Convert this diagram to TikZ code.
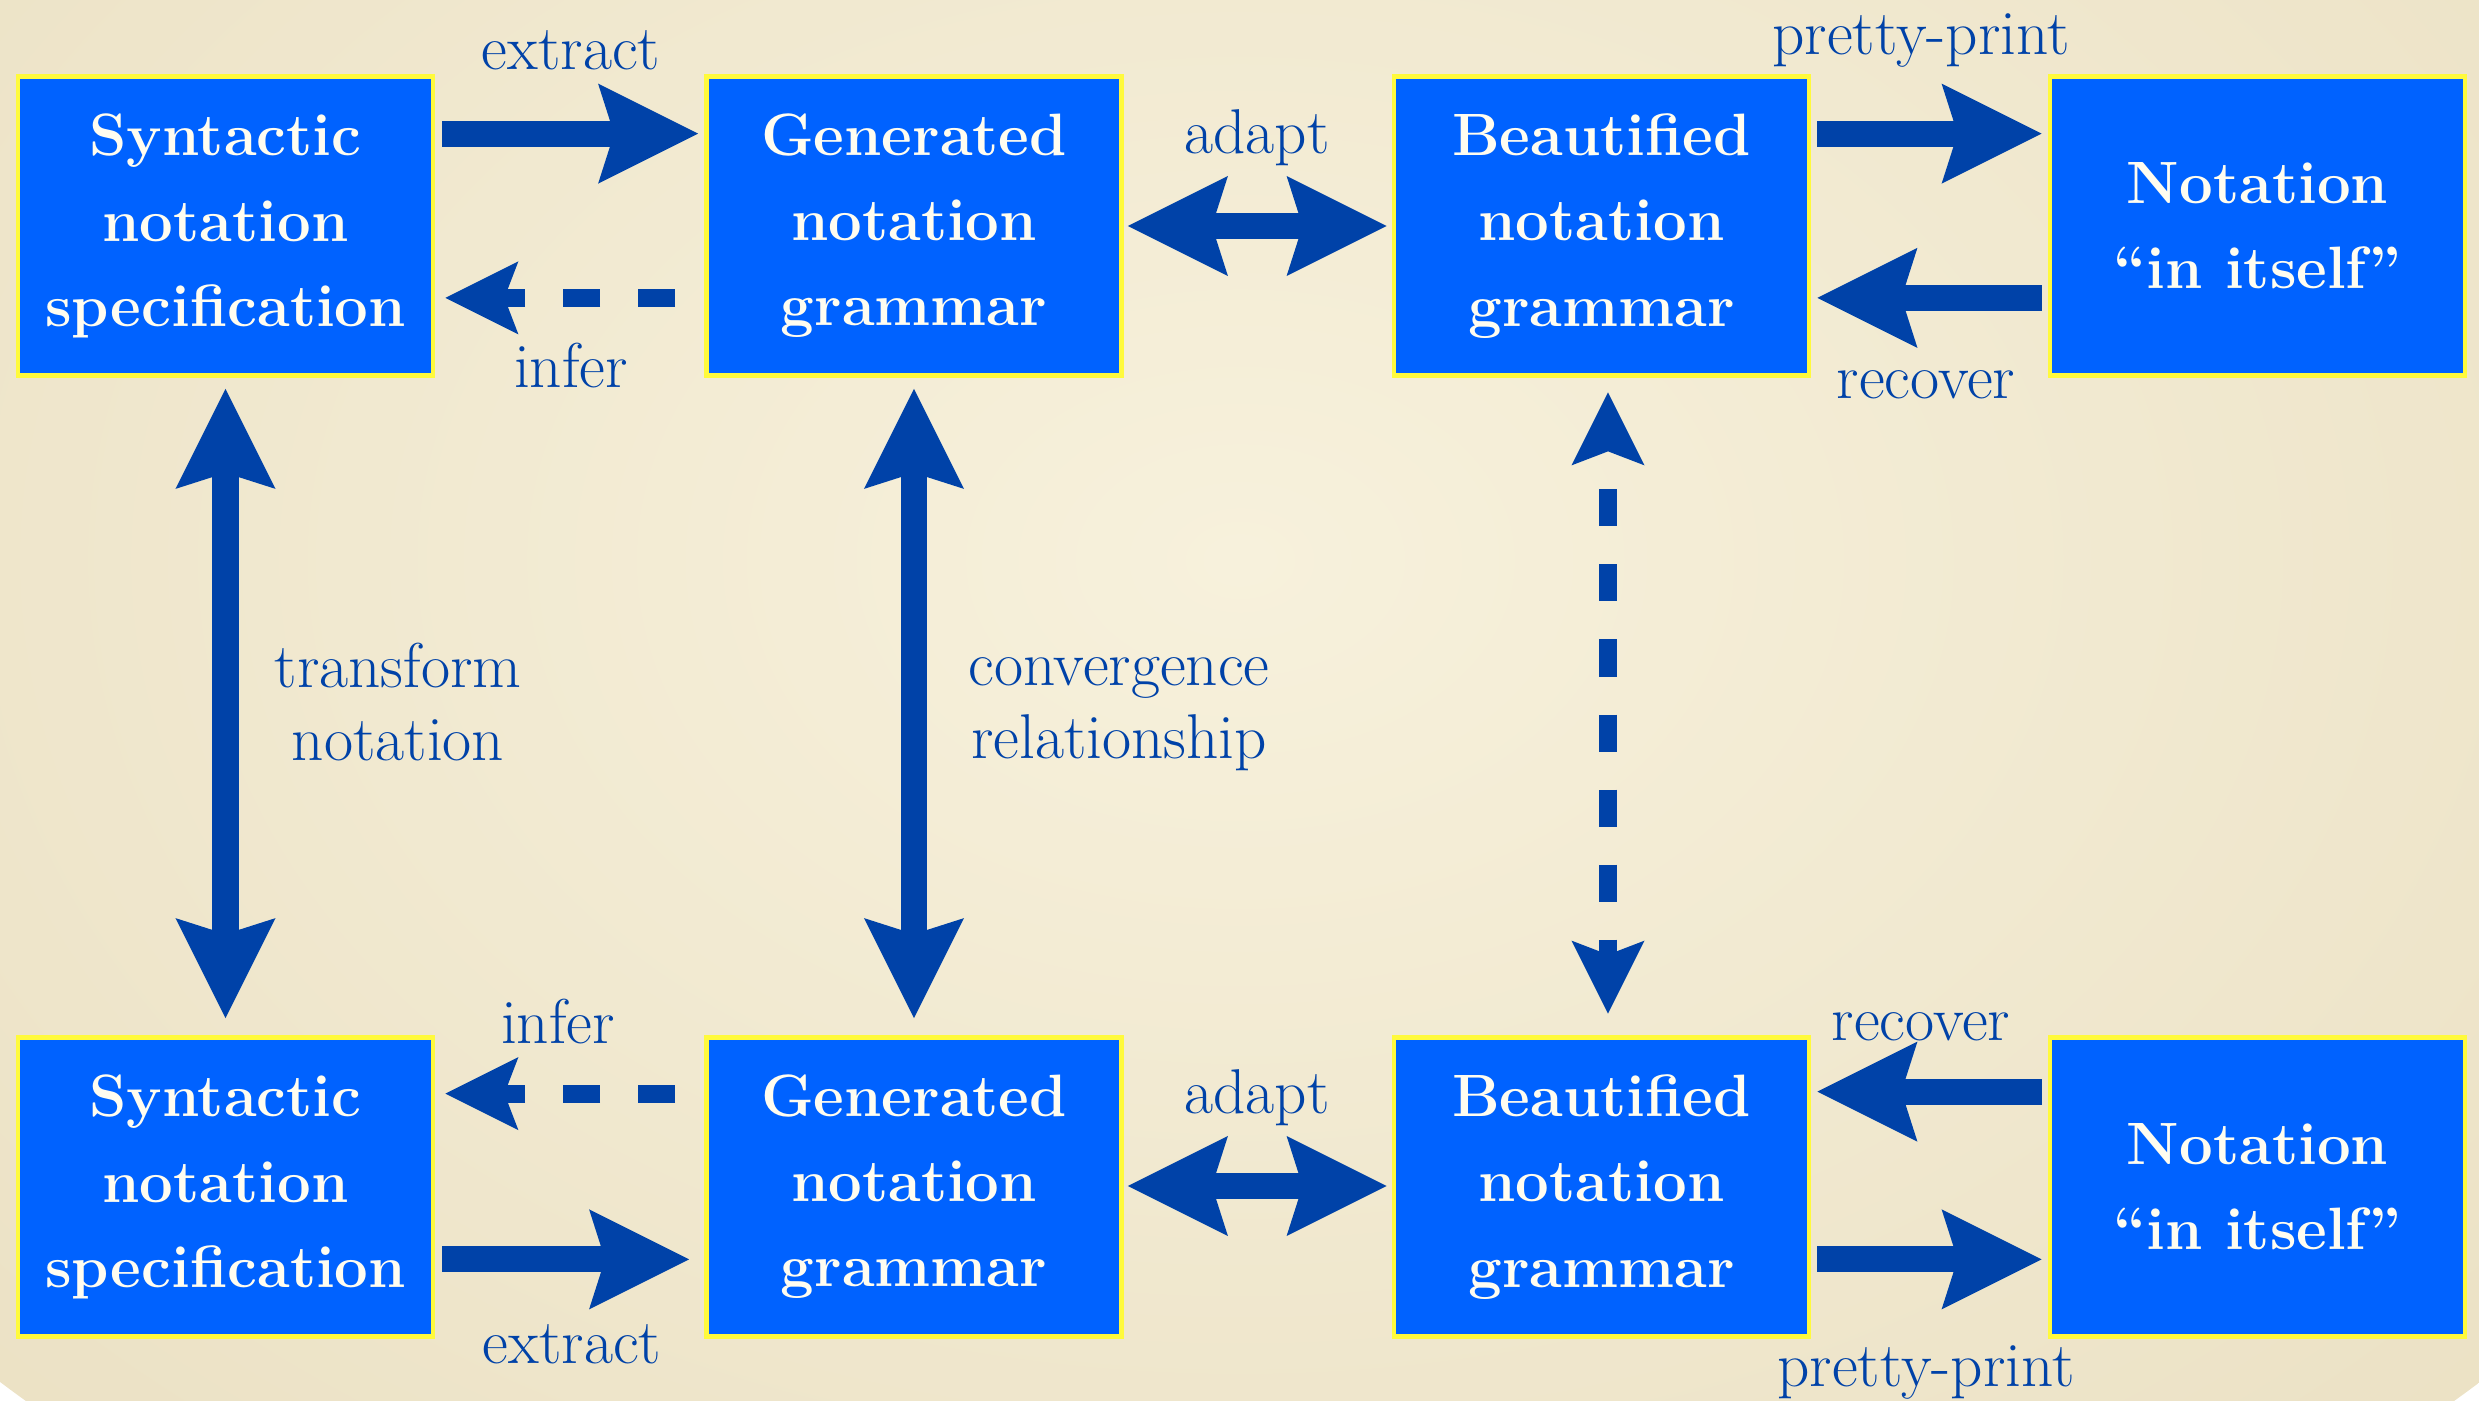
\documentclass[tikz,border=0pt]{standalone}
\usepackage{fontspec}
\usetikzlibrary{arrows.meta,calc}
\definecolor{boxblue}{RGB}{0,98,255}
\definecolor{arrblue}{RGB}{0,66,168}
\definecolor{bordery}{RGB}{255,250,60}
\definecolor{bginner}{RGB}{247,241,220}
\definecolor{bgouter}{RGB}{224,210,174}
\definecolor{boxtext}{RGB}{255,253,240}
\pgfdeclareradialshading{bgshade}{\pgfpoint{0bp}{0bp}}{color(0bp)=(bginner); color(50bp)=(bgouter)}
\tikzset{
  BigHead/.tip={Stealth[length=1cm,width=1cm,inset=0.16cm,line width=0pt]},
  SmallHead/.tip={Stealth[length=0.73cm,width=0.73cm,inset=0.14cm,line width=0pt]},
}
\begin{document}
\begin{tikzpicture}[x=0.01cm,y=-0.01cm,
  box/.style={rectangle, fill=boxblue, draw=bordery, line width=0.045cm,
    minimum width=4.15cm, minimum height=2.99cm, inner sep=0pt,
    text=boxtext, align=center, font=\fontsize{17}{24.2}\selectfont\bfseries,
    execute at begin node={\rule{0pt}{14.6pt}}},
  lbl/.style={text=arrblue, font=\fontsize{18}{21}\selectfont, inner sep=0pt, anchor=base},
  lbltwo/.style={text=arrblue, font=\fontsize{18}{21}\selectfont, inner sep=0pt, align=center},
  solidarr/.style={draw=arrblue, line width=0.26cm, -{BigHead}},
  soliddbl/.style={draw=arrblue, line width=0.26cm, {BigHead}-{BigHead}},
  dasharr/.style={draw=arrblue, line width=0.18cm, dash pattern=on 0.375cm off 0.375cm, -{SmallHead}},
  dashdbl/.style={draw=arrblue, line width=0.18cm, dash pattern=on 0.37cm off 0.38cm, dash phase=0.37cm, {SmallHead}-{SmallHead}},
]
\useasboundingbox (0,0) rectangle (2479,1400);
\begin{scope}
  \clip (0,0) rectangle (2479,1400);
  \shade[shading=bgshade] (1240,560) ellipse [x radius=17cm, y radius=12cm];
\end{scope}

% boxes
\node[box] (s1) at (225.5,226) {Syntactic\\notation\\specification};
\node[box] (g1) at (914,226) {Generated\\notation\\grammar};
\node[box] (b1) at (1601.5,226) {Beautified\\notation\\grammar};
\node[box] (n1) at (2257.5,226) {Notation\\“in itself”};
\node[box] (s2) at (225.5,1187) {Syntactic\\notation\\specification};
\node[box] (g2) at (914,1187) {Generated\\notation\\grammar};
\node[box] (b2) at (1601.5,1187) {Beautified\\notation\\grammar};
\node[box] (n2) at (2257.5,1187) {Notation\\“in itself”};

% top row connectors
\draw[solidarr] ($(s1.north east)+(7,59.5)$) -- ($(g1.north west)+(-6,59.5)$);
\draw[dasharr] ($(g1.south west)+(-29,-80)$) -- ($(s1.south east)+(10,-80)$);
\draw[soliddbl] ($(g1.east)+(4,0)$) -- ($(b1.west)+(-5,0)$);
\draw[solidarr] ($(b1.north east)+(6,59.5)$) -- ($(n1.north west)+(-6,59.5)$);
\draw[solidarr] ($(n1.south west)+(-6,-80)$) -- ($(b1.south east)+(6,-80)$);

% vertical connectors
\draw[soliddbl] ($(s1.south)+(0,11)$) -- ($(s2.north)+(0,-17)$);
\draw[soliddbl] ($(g1.south)+(0,11)$) -- ($(g2.north)+(0,-17)$);
\draw[dashdbl] ($(b1.south)+(6.5,14.5)$) -- ($(b2.north)+(6.5,-21.5)$);

% bottom row connectors
\draw[dasharr] ($(g2.north west)+(-29,58.5)$) -- ($(s2.north east)+(10,58.5)$);
\draw[solidarr] ($(s2.south east)+(7,-79.5)$) -- ($(g2.south west)+(-15,-79.5)$);
\draw[soliddbl] ($(g2.east)+(4,-1)$) -- ($(b2.west)+(-5,-1)$);
\draw[solidarr] ($(n2.north west)+(-6,56.5)$) -- ($(b2.north east)+(6,56.5)$);
\draw[solidarr] ($(b2.south east)+(6,-79.5)$) -- ($(n2.south west)+(-6,-79.5)$);

% labels
\node[lbl] (l1) at (571,70) {extract};
\node[lbl] (l2) at (571,387) {infer};
\node[lbl] (l3) at (1257,153) {adapt};
\node[lbl] (l4) at (1921,55) {pretty-print};
\node[lbl] (l5) at (1926,398) {recover};
\node[lbltwo] (l6) at (398,702) {transform\\notation};
\node[lbltwo] (l7) at (1119,714) {convergence\\relationship};
\node[lbl] (l8) at (558,1043) {infer};
\node[lbl] (l9) at (572,1363) {extract};
\node[lbl] (l10) at (1257,1113) {adapt};
\node[lbl] (l11) at (1921,1040) {recover};
\node[lbl] (l12) at (1926,1386) {pretty-print};
\end{tikzpicture}
\end{document}
